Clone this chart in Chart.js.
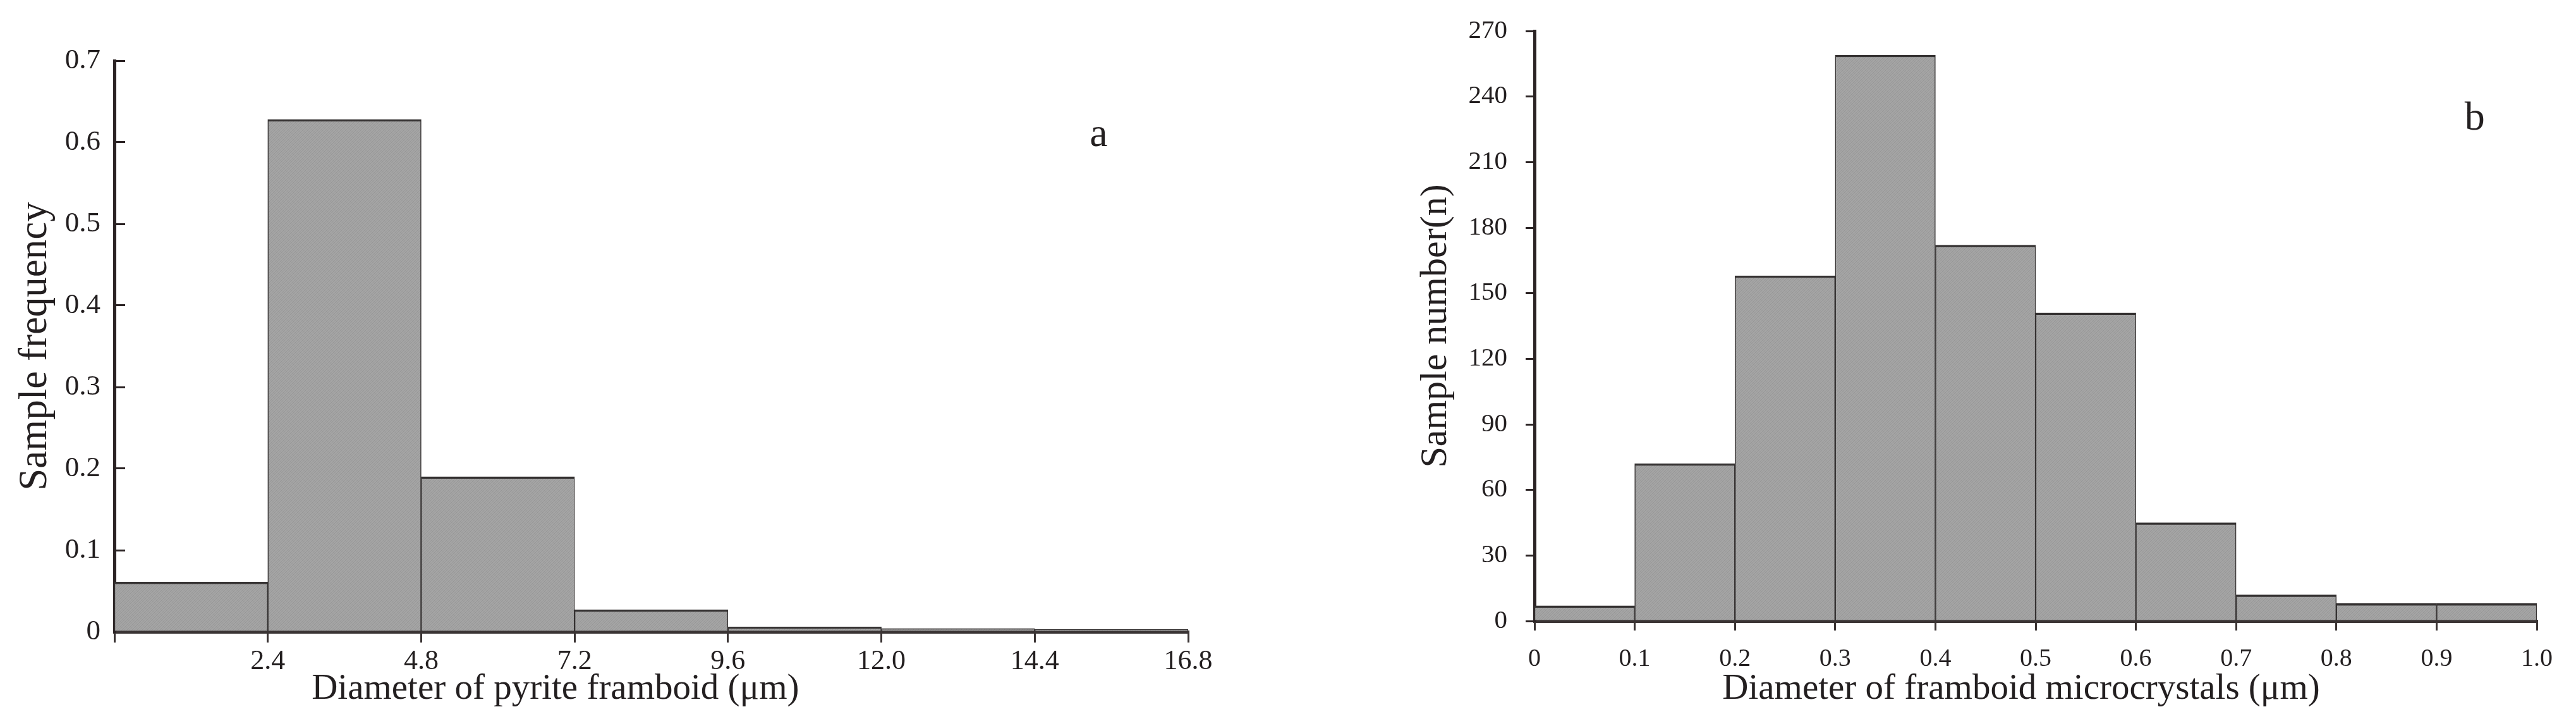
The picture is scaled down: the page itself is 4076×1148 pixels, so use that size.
<!DOCTYPE html>
<html>
<head>
<meta charset="utf-8">
<script src="https://cdn.jsdelivr.net/npm/chart.js@4.4.1/dist/chart.umd.min.js"></script>
<style>
  html, body { margin: 0; padding: 0; background: #fff; }
  #wrap { position: relative; width: 4076px; height: 1148px; }
  canvas { position: absolute; top: 0; }
  #chartA { left: 0; }
  #chartB { left: 2038px; }
</style>
</head>
<body>
<div id="wrap">
  <canvas id="chartA" width="2038" height="1148"></canvas>
  <canvas id="chartB" width="2038" height="1148"></canvas>
</div>
<script>
// panel a - pyrite framboid diameter, sample frequency per 2.4 um bin
const binEdgesA = [0, 2.4, 4.8, 7.2, 9.6, 12.0, 14.4, 16.8];
const freqA = [0.061, 0.628, 0.19, 0.027, 0.006, 0.004, 0.003];
const xTickLabelsA = ['', '2.4', '4.8', '7.2', '9.6', '12.0', '14.4', '16.8'];
const yTickLabelsA = ['0', '0.1', '0.2', '0.3', '0.4', '0.5', '0.6', '0.7'];

// panel b - framboid microcrystal diameter, sample counts per 0.1 um bin
const binEdgesB = [0, 0.1, 0.2, 0.3, 0.4, 0.5, 0.6, 0.7, 0.8, 0.9, 1.0];
const countsB = [7, 72, 158, 259, 172, 141, 45, 12, 8, 8];
const xTickLabelsB = ['0', '0.1', '0.2', '0.3', '0.4', '0.5', '0.6', '0.7', '0.8', '0.9', '1.0'];
const yTickLabelsB = ['0', '30', '60', '90', '120', '150', '180', '210', '240', '270'];

const serif = '"Liberation Serif", "Times New Roman", serif';
const ink = '#231f20';
Chart.defaults.font.family = serif;
Chart.defaults.color = ink;

// grainy grey like the scanned figure
function grainFill() {
  const c = document.createElement('canvas');
  c.width = 4; c.height = 4;
  const g = c.getContext('2d');
  g.fillStyle = '#a4a4a4';
  g.fillRect(0, 0, 4, 4);
  g.fillStyle = '#979797';
  g.fillRect(0, 0, 1, 1); g.fillRect(2, 2, 1, 1);
  g.fillRect(1, 3, 1, 1); g.fillRect(3, 1, 1, 1);
  return g.createPattern(c, 'repeat');
}

// draws the panel letter and the x axis caption
const captions = {
  id: 'captions',
  afterDraw(chart, args, opts) {
    const {ctx, chartArea, scales: {x, y}} = chart;
    ctx.save();
    ctx.fillStyle = ink;
    ctx.textAlign = 'center';
    ctx.textBaseline = 'alphabetic';
    ctx.font = '64px ' + serif;
    ctx.fillText(opts.letter, x.getPixelForValue(opts.letterAt[0]), y.getPixelForValue(opts.letterAt[1]));
    ctx.textBaseline = 'middle';
    ctx.font = '57px ' + serif;
    ctx.fillText(opts.xTitle, x.getPixelForValue(opts.xTitleAt), chartArea.bottom + opts.xTitleDy);
    ctx.restore();
  }
};

function histogram(id, s) {
  const points = s.values.map((v, i) => ({x: (s.edges[i] + s.edges[i + 1]) / 2, y: v}));
  return new Chart(document.getElementById(id), {
    type: 'bar',
    data: {
      datasets: [{
        data: points,
        backgroundColor: grainFill(),
        borderColor: '#353232',
        borderWidth: {top: 3.5, left: 1.5, right: 1.5, bottom: 0},
        borderSkipped: 'start',
        barPercentage: 1,
        categoryPercentage: 1
      }]
    },
    options: {
      responsive: false,
      animation: false,
      layout: {padding: s.padding},
      plugins: {
        legend: {display: false},
        tooltip: {enabled: false},
        captions: s.captions
      },
      scales: {
        x: {
          type: 'linear',
          min: s.edges[0],
          max: s.edges[s.edges.length - 1],
          offset: false,
          afterBuildTicks: sc => { sc.ticks = s.edges.map(v => ({value: v})); },
          afterFit: sc => { sc.height = s.xHeight; sc.paddingLeft = 0; sc.paddingRight = 0; },
          ticks: {
            autoSkip: false, maxRotation: 0, padding: s.xPad,
            font: {size: s.xFont},
            callback: (v, i) => s.xLabels[i]
          },
          grid: {offset: false, drawOnChartArea: false, tickLength: s.xTick, color: '#3a3434', lineWidth: 3},
          border: {color: '#3a3434', width: 5}
        },
        y: {
          min: 0,
          max: Number(s.yLabels[s.yLabels.length - 1]),
          afterBuildTicks: sc => { sc.ticks = s.yLabels.map(v => ({value: Number(v)})); },
          afterFit: sc => { sc.width = s.yWidth; sc.paddingTop = 0; sc.paddingBottom = 0; },
          ticks: {
            padding: s.yPad,
            font: {size: s.yFont},
            callback: (v, i) => s.yLabels[i]
          },
          grid: {drawOnChartArea: false, tickLength: s.yTick, color: '#2b2324', lineWidth: 3},
          border: {color: '#2b2324', width: 5},
          title: {
            display: true,
            text: s.yTitle,
            font: {size: s.yTitleFont},
            padding: {top: s.yTitlePad, bottom: 0}
          }
        }
      }
    },
    plugins: [captions]
  });
}

histogram('chartA', {
  edges: binEdgesA, values: freqA, xLabels: xTickLabelsA, yLabels: yTickLabelsA,
  padding: {left: 0, right: 158, top: 96, bottom: 0},
  xHeight: 149, xTick: 17, xPad: 4, xFont: 44,
  yWidth: 181, yTick: -17, yPad: 39, yFont: 45,
  yTitle: 'Sample frequency', yTitleFont: 63, yTitlePad: 19,
  captions: {letter: 'a', letterAt: [15.4, 0.595], xTitle: 'Diameter of pyrite framboid (μm)', xTitleAt: 6.9, xTitleDy: 91}
});

histogram('chartB', {
  edges: binEdgesB, values: countsB, xLabels: xTickLabelsB, yLabels: yTickLabelsB,
  padding: {left: 0, right: 62, top: 49, bottom: 0},
  xHeight: 166, xTick: 15, xPad: 21, xFont: 40,
  yWidth: 390, yTick: 14, yPad: 29, yFont: 41,
  yTitle: 'Sample number(n)', yTitleFont: 60, yTitlePad: 198,
  captions: {letter: 'b', letterAt: [0.938, 225], xTitle: 'Diameter of framboid microcrystals (μm)', xTitleAt: 0.4855, xTitleDy: 108}
});
</script>
</body>
</html>
